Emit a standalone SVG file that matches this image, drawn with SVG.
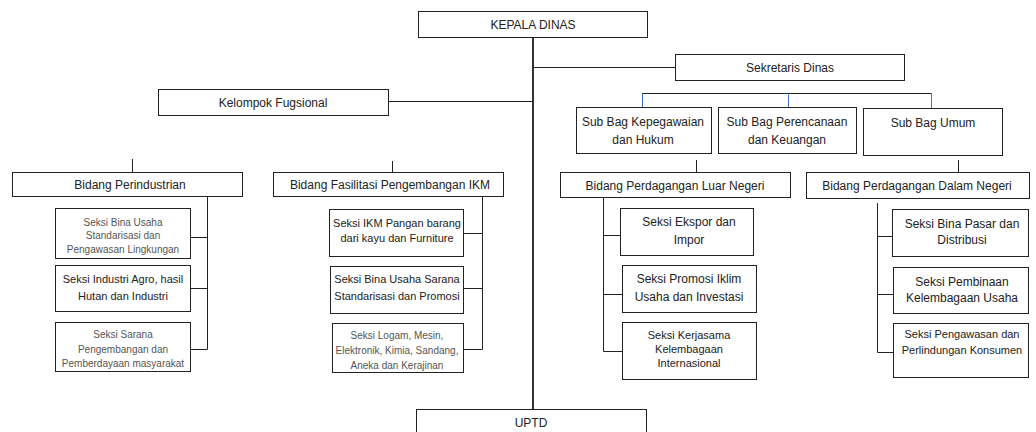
<svg xmlns="http://www.w3.org/2000/svg" width="1036" height="432" viewBox="0 0 1036 432">
<style>
.box{fill:#fff;stroke:#222;stroke-width:1}
.t{font-family:"Liberation Sans",Arial,sans-serif;font-size:12px;fill:#222;text-anchor:middle;dominant-baseline:central}
.s{font-size:11px}
.g{font-size:10px;fill:#555}
.ln{stroke:#222;stroke-width:1;fill:none}
.main{stroke:#333;stroke-width:2;fill:none}
.blue{stroke:#4472c4;stroke-width:1;fill:none}
</style>
<rect width="1036" height="432" fill="#fff"/>
<g id="connectors">
<path class="main" d="M533 37V409"/>
<path class="ln" d="M533 67.5H675"/>
<path class="ln" d="M388 101.5H533"/>
<path class="ln" d="M642 93.5H931.5"/>
<path class="blue" d="M642.5 93.5V107M788.5 93.5V107M931.5 93.5V108"/>
<path class="ln" d="M132.5 159V172M392.5 161V172M696.5 160V172M958.5 160V172"/>
<path class="ln" d="M207.5 197V349.5M190 237.5H207.5M190 288.5H207.5M190 349.5H207.5"/>
<path class="ln" d="M482.5 197V349.5M463 233.5H482.5M463 288.5H482.5M463 349.5H482.5"/>
<path class="ln" d="M603.5 198V351.5H622M603.5 235.5H620M603.5 294.5H622"/>
<path class="ln" d="M877.5 203V352.5H893M877.5 236.5H892M877.5 294.5H893"/>
</g>
<g id="kepala"><rect class="box" x="418.5" y="11.5" width="229" height="26"/><text class="t" x="533" y="24.5">KEPALA DINAS</text></g>
<g id="sekretaris"><rect class="box" x="675.5" y="54.5" width="229" height="26"/><text class="t" x="790" y="68">Sekretaris Dinas</text></g>
<g id="kelompok"><rect class="box" x="158.5" y="89.5" width="230" height="26"/><text class="t" x="273" y="102.5">Kelompok Fugsional</text></g>
<g id="subbag1"><rect class="box" x="576.5" y="107.5" width="135" height="46"/><text class="t" x="643" y="122">Sub Bag Kepegawaian</text><text class="t" x="643" y="140">dan Hukum</text></g>
<g id="subbag2"><rect class="box" x="718.5" y="107.5" width="138" height="46"/><text class="t" x="787" y="122">Sub Bag Perencanaan</text><text class="t" x="787" y="140">dan Keuangan</text></g>
<g id="subbag3"><rect class="box" x="863.5" y="108.5" width="139" height="47"/><text class="t" x="933" y="123">Sub Bag Umum</text></g>
<g id="bidang1"><rect class="box" x="12.5" y="172.5" width="230" height="24"/><text class="t" x="130" y="185">Bidang Perindustrian</text></g>
<g id="bidang2"><rect class="box" x="273.5" y="172.5" width="230" height="24"/><text class="t" x="390" y="185">Bidang Fasilitasi Pengembangan IKM</text></g>
<g id="bidang3"><rect class="box" x="560.5" y="172.5" width="230" height="25"/><text class="t" x="675" y="185.5">Bidang Perdagangan Luar Negeri</text></g>
<g id="bidang4"><rect class="box" x="806.5" y="172.5" width="223" height="26"/><text class="t" x="917" y="186">Bidang Perdagangan Dalam Negeri</text></g>
<g id="seksi1a"><rect class="box" x="55.5" y="208.5" width="135" height="50"/><text class="t g" x="123" y="222">Seksi Bina Usaha</text><text class="t g" x="123" y="235.5">Standarisasi dan</text><text class="t g" x="123" y="249">Pengawasan Lingkungan</text></g>
<g id="seksi1b"><rect class="box" x="55.5" y="265.5" width="135" height="46"/><text class="t s" x="123" y="278.5">Seksi Industri Agro, hasil</text><text class="t s" x="123" y="296">Hutan dan Industri</text></g>
<g id="seksi1c"><rect class="box" x="55.5" y="322.5" width="135" height="49"/><text class="t g" x="123" y="334">Seksi Sarana</text><text class="t g" x="123" y="349">Pengembangan dan</text><text class="t g" x="123" y="363">Pemberdayaan masyarakat</text></g>
<g id="seksi2a"><rect class="box" x="329.5" y="209.5" width="134" height="47"/><text class="t s" x="397" y="223">Seksi IKM Pangan barang</text><text class="t s" x="397" y="238">dari kayu dan Furniture</text></g>
<g id="seksi2b"><rect class="box" x="330.5" y="266.5" width="133" height="47"/><text class="t s" x="397" y="279">Seksi Bina Usaha Sarana</text><text class="t s" x="397" y="296">Standarisasi dan Promosi</text></g>
<g id="seksi2c"><rect class="box" x="332.5" y="323.5" width="131" height="49"/><text class="t g" x="397" y="335">Seksi Logam, Mesin,</text><text class="t g" x="397" y="350">Elektronik, Kimia, Sandang,</text><text class="t g" x="397" y="365">Aneka dan Kerajinan</text></g>
<g id="seksi3a"><rect class="box" x="620.5" y="208.5" width="133" height="47"/><text class="t" x="689" y="222">Seksi Ekspor dan</text><text class="t" x="689" y="240">Impor</text></g>
<g id="seksi3b"><rect class="box" x="622.5" y="265.5" width="134" height="47"/><text class="t" x="689" y="279">Seksi Promosi Iklim</text><text class="t" x="689" y="297">Usaha dan Investasi</text></g>
<g id="seksi3c"><rect class="box" x="622.5" y="322.5" width="134" height="57"/><text class="t s" x="689" y="335">Seksi Kerjasama</text><text class="t s" x="689" y="349">Kelembagaan</text><text class="t s" x="689" y="363">Internasional</text></g>
<g id="seksi4a"><rect class="box" x="892.5" y="209.5" width="136" height="47"/><text class="t" x="962" y="224">Seksi Bina Pasar dan</text><text class="t" x="962" y="240">Distribusi</text></g>
<g id="seksi4b"><rect class="box" x="893.5" y="267.5" width="135" height="46"/><text class="t" x="962" y="282">Seksi Pembinaan</text><text class="t" x="962" y="298">Kelembagaan Usaha</text></g>
<g id="seksi4c"><rect class="box" x="893.5" y="323.5" width="135" height="54"/><text class="t s" x="962" y="334">Seksi Pengawasan dan</text><text class="t s" x="962" y="350">Perlindungan Konsumen</text></g>
<g id="uptd"><rect class="box" x="416.5" y="409.5" width="230" height="30"/><text class="t" x="531" y="423">UPTD</text></g>
</svg>
